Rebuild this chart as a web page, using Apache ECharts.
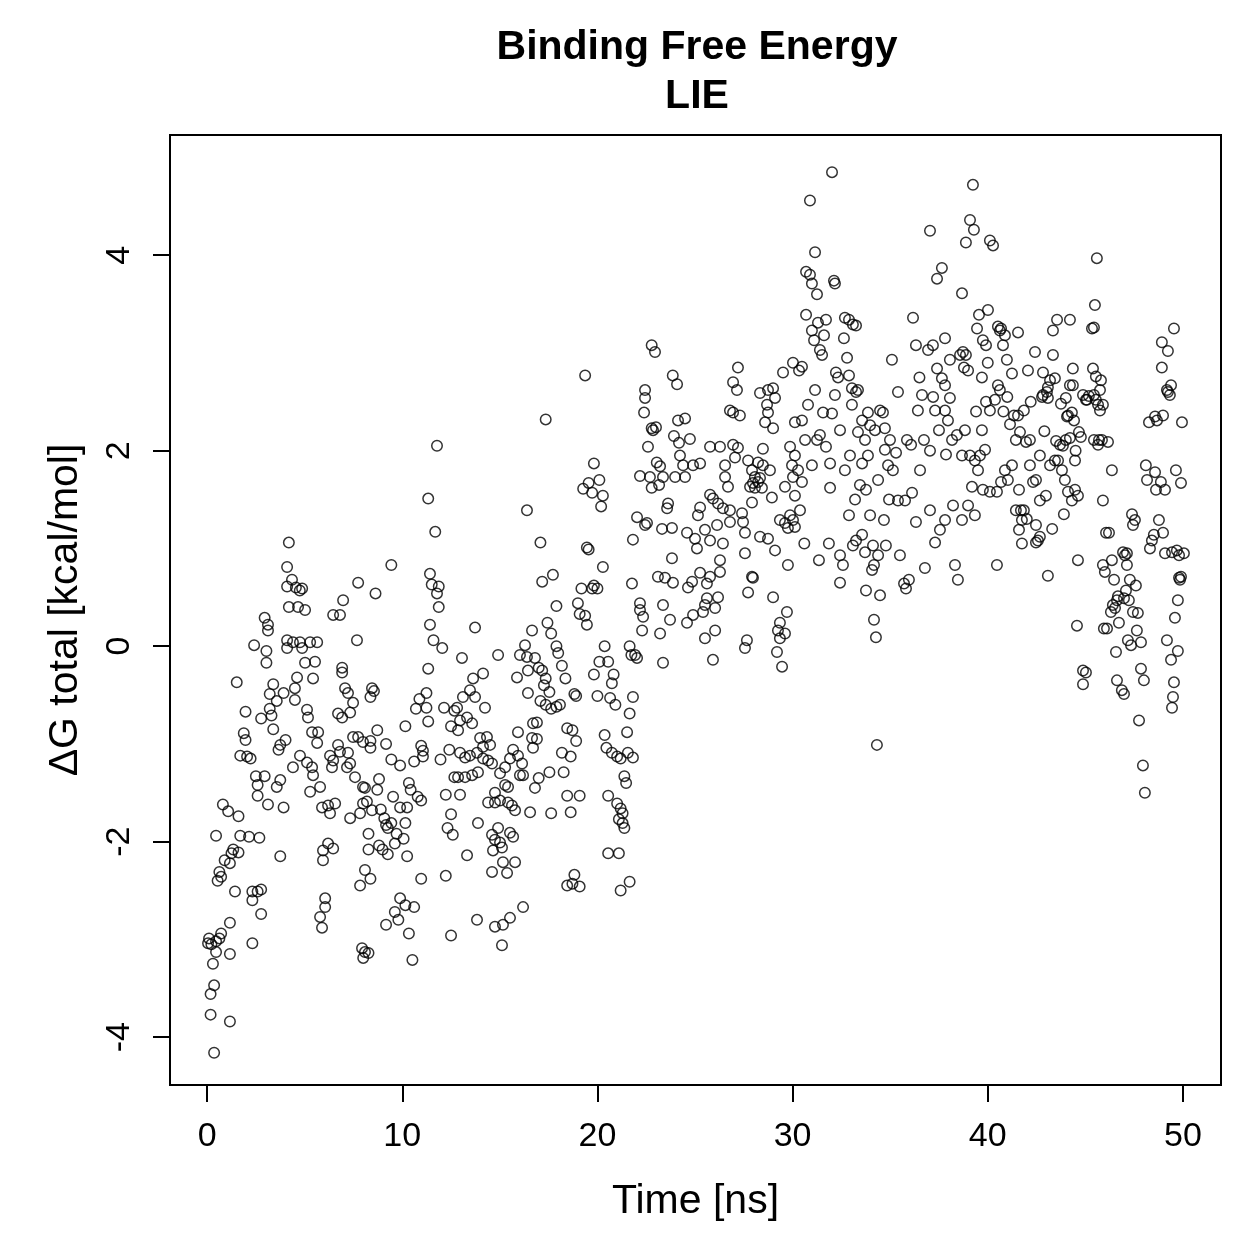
<!DOCTYPE html>
<html>
<head>
<meta charset="utf-8">
<script src="https://cdn.jsdelivr.net/npm/echarts@6/dist/echarts.min.js"></script>
<style>
html, body { margin: 0; padding: 0; background: #fff; }
#chart { width: 1259px; height: 1259px; }
</style>
</head>
<body>
<div id="chart"></div>
<script>
// tick labels
const xTicks = [0, 10, 20, 30, 40, 50];
const yTicks = [-4, -2, 0, 2, 4];

// [time (ns), dG total (kcal/mol)]
const lie00to10 = [
  [0.05,-3.04],[0.10,-2.99],[0.22,-3.05],[0.30,-3.25],[0.36,-3.47],[0.18,-3.56],[0.18,-3.77],[0.36,-4.16],
  [0.46,-3.02],[0.63,-2.99],[0.46,-3.13],[0.72,-2.94],[0.46,-1.94],[0.54,-2.40],[0.63,-2.31],[0.72,-2.36],
  [0.81,-1.62],[0.90,-2.19],[1.08,-1.69],[1.17,-2.22],[1.17,-2.83],[1.17,-3.15],[1.17,-3.84],[1.25,-2.12],
  [1.34,-2.08],[1.43,-2.51],[1.52,-0.37],[1.61,-1.74],[1.61,-2.11],[1.70,-1.12],[1.70,-1.94],[1.88,-0.89],
  [1.97,-0.67],[1.97,-0.96],[2.05,-1.13],[2.15,-1.95],[2.23,-1.15],[2.32,-2.51],[2.32,-2.60],[2.32,-3.04],
  [2.41,0.01],[2.50,-1.33],[2.59,-1.42],[2.59,-1.53],[2.59,-2.51],[2.68,-1.96],[2.77,-0.74],[2.77,-2.49],
  [2.77,-2.74],[2.95,0.29],[2.95,-1.33],[3.04,-0.05],[3.04,-0.17],[3.12,0.22],[3.12,0.16],[3.12,-1.62],
  [3.21,-0.49],[3.21,-0.64],[3.30,-0.71],[3.39,-0.39],[3.39,-0.85],[3.57,-0.56],[3.57,-1.44],[3.66,-1.06],
  [3.75,-1.01],[3.75,-1.37],[3.75,-2.15],[3.92,-0.48],[3.92,-1.65],[4.02,-0.96],[4.10,0.81],[4.10,0.61],
  [4.10,0.06],[4.19,1.06],[4.19,0.40],
  [4.35,0.68],[4.66,0.40],[5.02,0.37],[4.87,0.59],[4.55,0.60],[4.75,0.57],[4.40,0.04],[4.76,0.04],
  [5.28,0.04],[5.64,0.04],[4.10,-0.02],[4.87,-0.02],[5.02,-0.17],[5.53,-0.16],[4.61,-0.32],[5.43,-0.33],
  [4.50,-0.43],[4.50,-0.55],[5.12,-0.65],[5.17,-0.73],[5.38,-0.88],[5.69,-0.88],[5.64,-0.99],[4.76,-1.12],
  [4.40,-1.24],[5.12,-1.19],[5.38,-1.24],[5.43,-1.32],[5.79,-1.44],[5.28,-1.49],[5.89,-1.65],[6.20,-1.63],
  [6.56,-1.61],[6.30,-1.71],[6.20,-2.02],[5.94,-2.09],[6.46,-2.07],[5.94,-2.19],[6.05,-2.58],[6.05,-2.67],
  [5.79,-2.77],[5.89,-2.88],[6.97,0.47],[6.46,0.32],[6.81,0.32],[6.92,-0.22],[6.92,-0.27],[6.71,-0.69],
  [6.92,-0.73],[6.30,-1.12],[6.46,-1.17],[6.40,-1.24],[6.71,-1.01],[6.81,-1.08],[7.74,0.65],[7.68,0.06],
  [7.07,-0.43],[7.22,-0.48],[7.48,-0.58],[7.33,-0.68],[7.22,-1.09],[7.33,-1.20],[7.17,-1.24],[7.48,-0.93],
  [7.74,-0.93],[7.99,-0.98],[7.58,-1.34],[7.99,-1.44],[7.99,-1.61],[7.84,-1.71],[7.33,-1.76],[7.84,-2.45],
  [7.94,-3.09],[8.00,-3.19],
  [8.09,-3.13],[8.27,-3.14],[8.63,0.54],[9.44,0.83],[8.45,-0.43],[8.55,-0.46],[8.37,-0.52],[8.72,-0.86],
  [8.37,-0.97],[8.37,-1.04],[9.17,-1.00],[9.44,-1.16],[9.89,-1.22],[8.81,-1.36],[8.72,-1.47],[8.09,-1.45],
  [8.19,-1.59],[9.53,-1.54],[9.89,-1.65],[8.45,-1.68],[8.90,-1.67],[9.08,-1.76],[9.17,-1.83],[9.26,-1.86],
  [9.44,-1.81],[9.71,-1.92],[8.27,-1.92],[8.27,-2.08],[8.81,-2.04],[8.99,-2.08],[9.26,-2.13],[9.62,-2.02],
  [8.09,-2.29],[8.37,-2.38],[9.89,-2.58],[9.62,-2.72],[9.80,-2.80],[9.17,-2.85]
];

const lie10to20 = [
  [11.78,2.05],[11.33,1.51],[11.69,1.17],[11.42,0.74],[11.51,0.63],[11.87,0.61],[11.78,0.54],[11.87,0.40],
  [11.42,0.22],[11.60,0.06],[12.05,-0.02],[11.33,-0.23],[11.24,-0.48],[10.88,-0.54],[10.70,-0.64],[11.24,-0.63],
  [11.33,-0.77],[12.14,-0.63],[12.67,-0.66],[12.50,-0.82],[10.16,-0.82],[10.97,-1.02],[11.06,-1.07],[11.06,-1.13],
  [12.41,-1.06],[11.96,-1.16],[10.61,-1.18],[12.67,-1.34],[10.34,-1.40],[10.43,-1.47],[10.79,-1.54],[10.97,-1.58],
  [10.25,-1.65],[10.16,-1.81],[12.23,-1.52],[12.50,-1.72],[12.32,-1.86],[12.59,-1.93],[10.07,-1.97],[10.25,-2.15],
  [12.23,-2.35],[10.97,-2.38],[10.16,-2.65],[10.61,-2.67],[10.34,-2.94],[12.50,-2.96],[10.52,-3.21],
  [16.39,1.39],[13.73,0.19],[16.65,0.16],[16.29,0.01],[16.03,-0.09],[16.39,-0.11],[16.44,-0.25],[13.06,-0.12],
  [14.91,-0.09],[15.88,-0.32],[16.44,-0.48],[14.14,-0.28],[13.63,-0.33],[13.47,-0.45],[13.73,-0.52],[13.11,-0.52],
  [14.24,-0.63],[12.81,-0.63],[12.96,-0.76],[12.86,-0.86],[13.32,-0.73],[13.58,-0.79],[16.70,-0.79],[15.93,-0.88],
  [16.65,-0.94],[16.70,-1.04],[13.99,-0.94],[14.34,-0.93],[14.14,-1.03],[14.50,-1.01],[12.96,-1.09],[13.22,-1.14],
  [13.47,-1.12],[13.83,-1.09],[14.14,-1.15],[14.40,-1.17],[14.60,-1.20],[15.68,-1.06],[15.93,-1.12],[15.52,-1.15],
  [15.27,-1.24],[16.14,-1.20],[16.19,-1.32],[16.03,-1.32],[15.01,-1.30],[12.86,-1.34],[13.22,-1.34],[13.58,-1.32],
  [13.88,-1.29],[15.27,-1.42],[15.42,-1.44],[16.80,-1.45],[12.96,-1.52],[14.75,-1.50],[14.40,-1.60],[14.75,-1.60],
  [15.01,-1.58],[15.42,-1.60],[15.62,-1.63],[15.78,-1.68],[16.55,-1.70],[13.88,-1.81],[14.91,-1.86],[14.60,-1.93],
  [14.75,-1.98],[15.01,-2.01],[15.11,-2.06],[14.65,-2.09],[15.52,-1.91],[15.68,-1.95],[13.32,-2.14],[15.16,-2.21],
  [15.78,-2.21],[14.60,-2.31],[15.37,-2.32],[16.19,-2.67],[13.83,-2.80],[14.75,-2.87],[15.16,-2.85],[15.52,-2.78],
  [15.11,-3.06],[16.80,-0.12],
  [19.37,2.77],[17.35,2.32],[19.82,1.87],[19.55,1.67],[19.27,1.61],[19.73,1.57],[17.08,1.06],[19.46,1.01],
  [19.55,0.99],[17.17,0.66],[17.72,0.73],[19.18,0.59],[19.73,0.59],[19.82,0.62],[19.00,0.44],[19.09,0.33],
  [19.37,0.31],[19.46,0.22],[17.90,0.41],[17.44,0.24],[17.63,0.13],[17.90,0.00],[17.99,-0.07],[16.99,-0.22],
  [17.17,-0.25],[18.18,-0.20],[19.82,-0.29],[18.36,-0.33],[17.35,-0.33],[17.26,-0.40],[17.54,-0.47],[17.08,-0.56],
  [17.35,-0.60],[17.63,-0.64],[17.90,-0.62],[18.08,-0.60],[18.82,-0.49],[18.91,-0.51],[16.90,-0.78],[16.90,-0.95],
  [18.45,-0.84],[18.72,-0.86],[18.91,-0.97],[18.18,-1.09],[18.63,-1.13],[16.99,-1.35],[17.54,-1.29],[18.27,-1.29],
  [18.45,-1.53],[19.09,-1.53],[17.63,-1.71],[18.63,-1.70],[18.82,-2.34],[18.45,-2.45],[18.72,-2.43],[19.09,-2.46]
];

const lie20to30 = [
  [20.10,1.70],[20.28,1.54],[20.19,1.43],[20.28,0.81],[20.00,0.59],[20.37,0.00],[21.65,0.00],[21.74,-0.09],
  [20.10,-0.16],[20.55,-0.16],[20.83,-0.29],[20.74,-0.38],[20.00,-0.51],[20.65,-0.53],[20.92,-0.60],[21.65,-0.69],
  [20.37,-0.91],[20.46,-1.04],[20.74,-1.09],[21.01,-1.13],[21.19,-1.15],[21.56,-1.09],[21.38,-1.33],[21.47,-1.40],
  [20.55,-1.53],[21.01,-1.61],[21.19,-1.66],[21.29,-1.71],[21.10,-1.77],[21.29,-1.81],[21.38,-1.86],[20.55,-2.12],
  [21.10,-2.12],[21.19,-2.50],[21.65,-2.41],
  [22.78,3.08],[22.95,3.01],[23.86,2.77],[24.08,2.68],[22.44,2.62],[22.44,2.54],[22.39,2.39],[22.78,2.23],
  [22.85,2.21],[23.00,2.24],[24.13,2.31],[24.49,2.33],[23.92,2.15],[24.18,2.08],[24.74,2.12],[22.59,2.04],
  [24.23,1.95],[23.04,1.88],[23.21,1.84],[24.39,1.85],[25.26,1.87],[24.90,1.85],[22.18,1.74],[22.69,1.73],
  [23.36,1.73],[23.98,1.73],[24.49,1.73],[22.78,1.62],[23.16,1.65],[23.62,1.46],[23.57,1.41],[25.26,1.42],
  [25.15,1.34],[22.03,1.32],[22.44,1.24],[22.54,1.26],[23.31,1.20],[23.82,1.21],[24.59,1.16],[25.00,1.10],
  [21.82,1.09],[25.10,1.00],[23.82,0.90],[23.10,0.71],[23.46,0.70],[23.87,0.65],[24.85,0.66],[25.26,0.75],
  [21.77,0.64],[24.64,0.60],[22.18,0.44],[22.18,0.37],[22.34,0.30],[23.36,0.42],[23.72,0.27],[24.59,0.24],
  [24.90,0.32],[25.41,0.35],[22.29,0.16],[23.21,0.13],[25.51,0.08],[21.93,-0.09],[22.03,-0.12],[23.36,-0.17],
  [21.82,-0.52],[21.52,-0.88],[21.82,-1.14],
  [27.20,2.85],[26.95,2.70],[27.15,2.62],[29.51,2.80],[30.02,2.90],[28.33,2.59],[28.74,2.62],[29.00,2.64],
  [29.10,2.54],[26.79,2.41],[26.95,2.39],[27.30,2.36],[28.69,2.47],[28.74,2.39],[28.59,2.29],[29.00,2.23],
  [30.12,2.29],[25.77,2.04],[26.28,2.04],[26.95,2.06],[27.20,2.03],[27.05,1.93],[28.48,2.02],[27.72,1.90],
  [28.23,1.88],[28.48,1.85],[28.84,1.80],[27.92,1.80],[28.07,1.73],[28.33,1.72],[28.23,1.68],[27.97,1.67],
  [27.82,1.63],[28.07,1.62],[28.43,1.62],[26.54,1.85],[26.54,1.73],[26.69,1.63],[29.87,2.04],[30.02,1.73],
  [29.97,1.85],[29.61,1.63],[28.94,1.52],[27.92,1.47],[25.77,1.55],[25.92,1.51],[26.18,1.46],[26.43,1.41],
  [26.79,1.39],[27.41,1.36],[27.46,1.27],[27.56,1.16],[26.13,1.24],[26.79,1.27],[29.35,1.29],[29.61,1.26],
  [29.87,1.34],[29.76,1.21],[30.12,1.22],[25.51,1.19],[25.77,1.08],[26.43,1.05],[28.33,1.12],[28.74,1.10],
  [29.10,0.98],[27.56,0.95],[26.28,0.88],[29.76,0.83],[25.77,0.71],[25.61,0.64],[26.28,0.76],[27.92,0.71],
  [27.97,0.70],[26.18,0.50],[26.03,0.39],[25.61,0.49],[25.51,0.42],[27.72,0.55],[29.00,0.50],[29.71,0.35],
  [29.35,0.24],[29.25,0.16],[29.61,0.13],[29.35,0.08],[29.20,-0.06],[29.46,-0.21],[26.03,0.16],[27.66,0.06],
  [27.56,-0.02],[25.92,-0.14]
];

const lie30to40 = [
  [30.89,4.56],[32.02,4.85],[31.15,4.03],[30.69,3.83],[30.89,3.80],[30.99,3.71],[31.25,3.60],[32.12,3.74],
  [32.17,3.71],[30.69,3.39],[31.30,3.31],[31.61,3.18],[31.10,3.13],[30.48,2.86],[30.33,2.82],[30.99,3.23],
  [31.40,3.03],[31.51,2.98],[31.71,3.34],[32.68,3.36],[32.89,3.34],[33.25,3.28],[33.09,3.29],[32.63,3.15],
  [32.79,2.95],[32.89,2.77],[32.22,2.80],[32.33,2.75],[33.04,2.64],[33.25,2.60],[33.35,2.62],[31.56,2.39],
  [32.02,2.38],[31.40,2.16],[31.71,2.04],[31.92,1.87],[30.48,2.31],[30.64,2.11],[30.99,1.85],[30.48,1.68],
  [30.12,1.54],[30.38,1.39],[30.02,1.29],[31.92,1.62],[31.86,1.05],[32.43,0.93],[32.58,0.83],[32.43,0.65],
  [32.89,1.34],[33.09,1.03],[33.25,1.08],[33.56,1.14],[33.71,0.96],[33.76,0.57],[34.07,0.78],[34.17,0.27],
  [34.27,0.09],[34.17,0.83],[34.32,-1.01],[34.48,2.41],[33.97,2.26],[33.71,2.11],[33.35,2.19],[33.86,1.95],
  [34.73,2.01],[34.89,1.85],[34.38,1.70],[33.76,1.60],[33.45,1.65],[33.56,2.31],[34.22,2.21],[33.86,2.39],
  [34.63,2.39],[34.73,2.23],[30.12,1.95],[30.28,1.80],[30.79,2.47],[31.15,2.62],[31.25,2.11],[32.17,2.57],
  [32.43,2.21],[32.68,1.80],[32.94,1.95],[33.04,2.47],[33.20,1.50],[33.56,1.87],[33.97,1.34],[34.12,1.03],
  [34.38,0.93],[34.48,0.52],[34.68,1.29],[34.78,1.03],[34.94,1.50],[34.99,2.11],[30.60,1.05],[31.35,0.88],
  [35.09,2.93],[36.17,3.36],[37.04,4.25],[37.40,3.76],[37.65,3.87],[37.81,3.15],[36.94,3.03],[36.32,3.08],
  [37.19,3.08],[37.40,2.84],[37.65,2.74],[37.81,2.67],[38.58,2.98],[38.73,3.01],[38.88,2.98],[38.99,2.82],
  [38.68,3.61],[38.88,4.13],[39.09,4.36],[39.24,4.72],[39.29,4.26],[39.55,3.39],[39.75,3.13],[39.91,3.08],
  [39.45,3.25],[38.78,2.85],[39.91,2.50],[39.86,2.01],[39.60,1.95],[39.70,2.21],[35.50,0.93],[35.71,0.64],
  [35.81,0.59],[35.96,0.68],[36.78,0.80],[37.30,1.06],[37.55,1.19],[38.32,0.83],[38.47,0.68],[38.22,1.44],
  [39.19,1.63],[35.40,1.49],[35.14,1.80],[35.30,1.98],[35.86,2.11],[36.07,2.06],[36.53,1.80],[36.73,2.11],
  [37.30,2.41],[37.50,2.21],[37.96,2.31],[38.17,2.11],[38.42,2.16],[38.83,2.21],[39.09,1.95],[39.34,1.90],
  [39.50,1.80],[39.75,1.60],[36.42,2.41],[36.63,2.57],[37.04,2.00],[37.81,2.41],[38.06,2.54],[37.86,1.96],
  [38.68,1.95],[35.76,1.49],[36.12,1.57],[36.32,1.27],[37.04,1.39],[37.81,1.29],[38.68,1.29],[38.99,1.44],
  [39.34,1.34],[38.06,2.93],[35.40,2.60],[36.50,2.75],[37.20,2.55],[39.40,2.40],[39.70,2.75]
];

const lie40to50 = [
  [40.11,4.15],[40.27,4.10],[40.11,2.41],[40.37,2.52],[40.52,2.67],[40.62,2.62],[40.88,3.18],[40.62,3.23],
  [40.78,3.08],[40.52,3.27],[40.01,3.44],[40.47,0.83],[40.11,1.58],[40.47,1.58],[40.68,1.68],[40.00,2.90],
  [40.68,3.25],[40.98,2.93],[41.24,2.79],[41.55,3.21],[42.06,2.82],[42.42,3.01],[43.34,3.23],[43.55,3.34],
  [43.34,2.98],[44.21,3.34],[44.36,2.84],[44.00,2.54],[42.83,2.80],[42.83,2.57],[43.08,2.65],[43.19,2.72],
  [43.08,2.54],[43.44,2.74],[42.78,2.55],[43.03,2.60],[41.85,2.41],[41.55,2.36],[41.14,2.27],[41.34,2.36],
  [41.65,2.19],[41.96,2.09],[42.16,2.11],[41.44,2.11],[42.16,1.85],[42.32,1.68],[42.47,1.70],[41.24,1.85],
  [40.88,1.80],[41.03,1.70],[41.60,1.60],[41.70,1.39],[41.85,1.39],[41.44,1.39],[41.75,1.29],[41.60,1.19],
  [41.75,1.05],[42.47,1.24],[42.57,1.08],[42.47,1.06],[42.67,1.12],[43.08,0.72],[42.67,1.49],[42.98,1.54],
  [43.19,1.85],[43.44,1.90],[43.60,1.90],[43.80,1.80],[44.00,2.11],[44.21,2.13],[43.70,2.06],[43.85,2.05],
  [44.06,2.35],[44.42,2.31],[44.31,2.39],[44.11,2.36],[43.95,1.70],[44.11,1.58],[44.31,1.49],[44.47,1.60],
  [44.62,1.54],[44.47,1.90],[44.67,2.19],[44.77,2.14],[44.21,2.67],[44.36,2.67],[44.88,2.57],[45.03,2.52],
  [44.57,0.21],[44.88,-0.25],[45.03,-0.27],[44.88,-0.39],[44.62,0.88],[42.67,1.95],[42.90,2.20],[43.50,2.10],
  [43.75,2.48],[44.50,2.00],[40.80,2.40],[41.00,2.55],[42.20,2.50],[42.00,1.30],[43.30,1.20],[43.90,1.35],
  [45.59,3.97],[45.49,3.49],[45.34,3.25],[45.44,3.26],[45.39,2.84],[45.54,2.76],[45.80,2.72],[45.44,2.57],
  [45.54,2.52],[45.65,2.47],[45.75,2.62],[45.75,2.41],[45.90,2.47],[45.08,2.52],[45.18,2.56],[45.44,2.11],
  [45.65,2.06],[45.85,2.11],[46.16,2.09],[46.36,1.80],[45.90,1.49],[45.70,2.11],[45.90,0.83],[46.00,0.76],
  [46.06,1.16],[46.21,1.16],[45.95,0.18],[46.11,0.18],[46.31,0.35],[46.36,0.88],[46.47,0.68],[46.57,-0.06],
  [46.62,0.47],[46.52,0.39],[46.67,0.51],[46.41,0.42],[46.72,0.24],[46.62,-0.35],[46.87,-0.45],[46.98,-0.49],
  [46.93,0.96],[47.03,0.93],[47.13,0.95],[47.13,0.83],[47.28,0.68],[47.08,0.57],[46.98,0.49],[47.23,0.47],
  [47.44,0.35],[47.18,0.06],[47.34,0.01],[47.39,1.35],[47.54,1.29],[47.44,1.24],[47.59,0.62],[47.64,0.16],
  [47.69,0.34],[47.75,-0.76],[47.85,0.04],[47.85,-0.23],[47.95,-1.22],[48.05,-1.50],[48.10,1.85],[48.16,1.70],
  [48.00,-0.35],[48.26,2.29],[48.31,1.00],[48.41,1.08],[48.57,1.78],[48.51,1.14],[48.62,1.60],[48.57,2.35],
  [48.67,2.31],[48.77,1.29],[48.87,1.68],[48.98,1.16],[49.08,1.60],[49.18,2.62],[49.23,2.60],[48.98,2.36],
  [49.33,2.57],[49.39,2.67],[49.18,0.06],[49.39,-0.14],[49.49,-0.52],[49.54,-0.37],[49.44,-0.63],[49.59,0.29],
  [49.74,0.47],[49.69,0.98],[49.80,0.93],[49.80,0.70],[49.90,0.71],[49.90,1.67],[50.05,0.95],[49.85,0.68],
  [49.95,2.29],[49.54,3.25],[49.23,3.02],[48.92,3.11],[48.92,2.85],[49.08,0.95],[49.44,0.96],[49.64,1.80],
  [49.74,-0.05]
];

const points = [].concat(lie00to10, lie10to20, lie20to30, lie30to40, lie40to50);

const font = '"Liberation Sans", Arial, Helvetica, sans-serif';
const chart = echarts.init(document.getElementById('chart'));

const option = {
  backgroundColor: '#ffffff',
  animation: false,
  title: {
    text: 'Binding Free Energy\nLIE',
    left: 692,
    top: 18,
    textAlign: 'center',
    textStyle: {
      fontFamily: font,
      fontWeight: 'bold',
      fontSize: 41,
      lineHeight: 49,
      color: '#000'
    }
  },
  grid: {
    left: 170,
    right: 38,
    top: 135,
    bottom: 174,
    show: true,
    borderColor: '#000',
    borderWidth: 2,
    backgroundColor: 'transparent'
  },
  xAxis: {
    type: 'value',
    min: -1.9,
    max: 51.95,
    name: 'Time [ns]',
    nameLocation: 'middle',
    nameGap: 96,
    nameTextStyle: { fontFamily: font, fontSize: 41, color: '#000' },
    axisLine: { show: false, onZero: false },
    splitLine: { show: false },
    axisTick: {
      show: true,
      length: 17,
      customValues: xTicks,
      lineStyle: { color: '#000', width: 2 }
    },
    axisLabel: {
      customValues: xTicks,
      margin: 35,
      fontFamily: font,
      fontSize: 34,
      color: '#000'
    }
  },
  yAxis: {
    type: 'value',
    min: -4.49,
    max: 5.23,
    name: 'ΔG total [kcal/mol]',
    nameLocation: 'middle',
    nameGap: 84,
    nameTextStyle: { fontFamily: font, fontSize: 41, color: '#000' },
    axisLine: { show: false, onZero: false },
    splitLine: { show: false },
    axisTick: {
      show: true,
      length: 17,
      customValues: yTicks,
      lineStyle: { color: '#000', width: 2 }
    },
    axisLabel: {
      customValues: yTicks,
      rotate: 90,
      margin: 33,
      fontFamily: font,
      fontSize: 34,
      color: '#000'
    }
  },
  series: [{
    type: 'scatter',
    data: points,
    symbol: 'circle',
    symbolSize: 10.5,
    itemStyle: {
      color: 'rgba(0,0,0,0)',
      borderColor: '#000',
      borderWidth: 1.5
    },
    emphasis: { disabled: true }
  }]
};

chart.setOption(option);
</script>
</body>
</html>
